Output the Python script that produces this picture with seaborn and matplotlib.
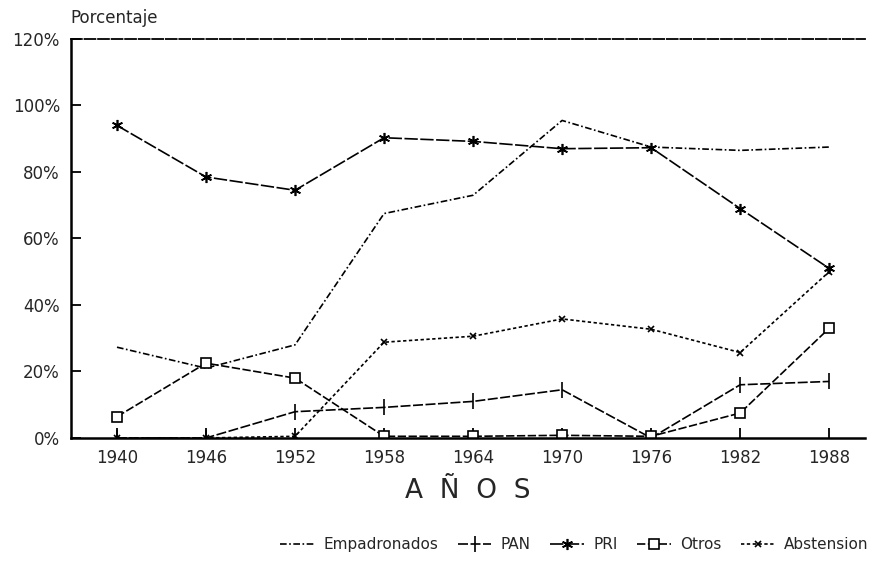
import matplotlib
matplotlib.use("Agg")
import matplotlib.pyplot as plt
import pandas as pd
import seaborn as sns

# datos
anios = [1940, 1946, 1952, 1958, 1964, 1970, 1976, 1982, 1988]
empadronados = [27.3, 21.0, 28.0, 67.5, 73.0, 95.5, 87.5, 86.5, 87.5]
pan = [0.0, 0.0, 7.9, 9.2, 11.0, 14.5, 0.0, 16.0, 17.0]
pri = [94.0, 78.5, 74.5, 90.3, 89.2, 87.0, 87.3, 69.0, 51.0]
otros = [6.4, 22.5, 18.0, 0.5, 0.5, 0.8, 0.5, 7.5, 33.0]
abstencion = [0.0, 0.0, 0.5, 28.8, 30.6, 35.8, 32.7, 25.7, 50.0]

series = ['Empadronados', 'PAN', 'PRI', 'Otros', 'Abstension']
valores = [empadronados, pan, pri, otros, abstencion]
ticks_y = [0, 20, 40, 60, 80, 100, 120]

df = pd.DataFrame({'Año': anios * len(series),
                   'Serie': [s for s in series for _ in anios],
                   'Valor': [v for vals in valores for v in vals]})

sns.set_theme(style="white")
plt.rcParams['font.family'] = ['DejaVu Sans']

fig = plt.figure(figsize=(8.7, 5.61), dpi=100)
ax = fig.add_axes([0.0816, 0.2193, 0.9124, 0.7112])

estilos = {
    'Empadronados': dict(marker=None, dashes=(4, 1.5, 1, 1.5)),
    'PAN': dict(marker='|', markersize=11, dashes=(6, 1.5)),
    'PRI': dict(marker=(6, 2, 0), markersize=8, dashes=(8, 1.5)),
    'Otros': dict(marker='s', markersize=7, markerfacecolor='white', dashes=(5, 1.5)),
    'Abstension': dict(marker='x', markersize=5, dashes=(2, 1.5)),
}

for s in series:
    d = df[df['Serie'] == s]
    est = estilos[s]
    sns.lineplot(data=d, x='Año', y='Valor', ax=ax, color='black', linewidth=1.2,
                 marker=est['marker'], markersize=est.get('markersize', 6),
                 markerfacecolor=est.get('markerfacecolor', 'black'),
                 markeredgecolor='black', markeredgewidth=1.2,
                 dashes=False, label=s)
    ax.lines[-1].set_dashes(est['dashes'])

ax.set_xlim(1936.9, 1990.4)
ax.set_ylim(0, 120)
ax.set_xticks(anios)
ax.set_xticklabels([str(a) for a in anios], fontsize=12)
ax.set_yticks(ticks_y)
ax.set_yticklabels([f'{t}%' for t in ticks_y], fontsize=12)
ax.tick_params(axis='both', direction='in', length=7, width=1.3, color='black',
               left=True, bottom=True, pad=8)
ax.set_xlabel('A  Ñ  O  S', fontsize=19, labelpad=8)
ax.set_ylabel('')

for lado in ['left', 'bottom']:
    ax.spines[lado].set_color('black')
    ax.spines[lado].set_linewidth(1.8)
ax.spines['right'].set_visible(False)
ax.spines['top'].set_color('black')
ax.spines['top'].set_linewidth(1.3)
ax.spines['top'].set_linestyle((0, (6, 1.5)))

fig.text(0.081, 0.968, 'Porcentaje', fontsize=12, ha='left', va='center')

handles, labels = ax.get_legend_handles_labels()
leg = ax.legend(handles, labels, loc='center right', bbox_to_anchor=(1.005, -0.268), ncol=5,
                frameon=False, fontsize=11, handlelength=2.2, columnspacing=1.3,
                handletextpad=0.6, borderaxespad=0, borderpad=0)

fig.savefig('out.png', dpi=100)
